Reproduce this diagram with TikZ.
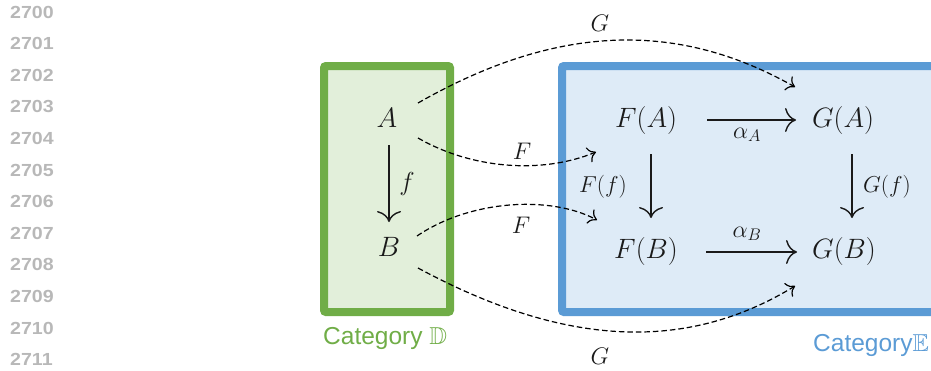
\RequirePackage{fix-cm}
\documentclass[tikz,border=0pt]{standalone}
\usepackage{amssymb}
\usepackage{fontspec}
\setsansfont{Liberation Sans}
\newfontfamily\lnfont[FakeStretch=1.12]{Liberation Sans Bold}
\usetikzlibrary{arrows.meta,calc}
\definecolor{lngray}{HTML}{B8B8B8}
\definecolor{dgreen}{HTML}{70AD47}
\definecolor{dgreenfill}{HTML}{E2EFDA}
\definecolor{eblue}{HTML}{5B9BD5}
\definecolor{ebluefill}{HTML}{DEEBF7}
\definecolor{ink}{HTML}{1A1A1A}
\tikzset{
  lnum/.style={anchor=west, inner sep=0pt, text=lngray, font=\lnfont\fontsize{17.5}{17.5}\selectfont},
  obj/.style={inner sep=0pt, text=ink, font=\fontsize{28}{28}\selectfont},
  lbl/.style={inner sep=0pt, text=ink, font=\fontsize{24}{24}\selectfont},
  cdarrow/.style={draw=ink, line width=1.4pt, -{Computer Modern Rightarrow[length=11pt,width=24pt]}},
  funarrow/.style={draw=black, line width=1.2pt, dash pattern=on 5.5pt off 3pt, -{Computer Modern Rightarrow[length=8pt,width=16pt]}},
  catlbl/.style={anchor=west, inner sep=0pt, font=\sffamily\fontsize{24.5}{24.5}\selectfont}
}
\begin{document}
\begin{tikzpicture}[x=1pt,y=-1pt]
\useasboundingbox (0,0) rectangle (931,370);
\clip (0,0) rectangle (931,370);
% line numbers
\foreach \i in {0,...,11} {
  \pgfmathtruncatemacro\n{2700+\i}
  \node[lnum] (ln\i) at (10,{12+31.6*\i}) {\n};
}
% category boxes
\node[draw=dgreen, fill=dgreenfill, line width=8pt, rounded corners=2pt, inner sep=0pt,
      minimum width=126pt, minimum height=246pt] (Dbox) at (387,189) {};
\node[draw=eblue, fill=ebluefill, line width=8pt, rounded corners=2pt, inner sep=0pt,
      minimum width=383pt, minimum height=246pt] (Ebox) at (753.5,189) {};
\node[catlbl, text=dgreen] (Dlab) at (323,338) {Category $\mathbb{D}$};
\node[catlbl, text=eblue] (Elab) at (813,345) {Category$\mathbb{E}$};
% objects
\node[obj] (A) at (387,118) {$A$};
\node[obj] (B) at (389,247) {$B$};
\node[obj] (FA) at (646,120) {$F(A)$};
\node[obj] (GA) at (843,120) {$G(A)$};
\node[obj] (FB) at (646,251) {$F(B)$};
\node[obj] (GB) at (844,251) {$G(B)$};
% morphisms
\draw[cdarrow] ($(A)+(2,27)$) -- ($(B)+(0,-25)$);
\node[lbl, font=\fontsize{26}{26}\selectfont] (f) at (407,184) {$f$};
\draw[cdarrow] ($(FA)+(5,34)$) -- ($(FB)+(5,-33)$);
\node[lbl, font=\fontsize{23}{23}\selectfont] (Ff) at (603,187) {$F(f)$};
\draw[cdarrow] ($(GA)+(9,34)$) -- ($(GB)+(8,-33)$);
\node[lbl, font=\fontsize{23}{23}\selectfont] (Gf) at (887,187) {$G(f)$};
\draw[cdarrow] ($(FA)+(61,0)$) -- ($(GA)+(-47,0)$);
\node[lbl] (aA) at (747,135) {$\alpha_A$};
\draw[cdarrow] ($(FB)+(60,1)$) -- ($(GB)+(-47,1)$);
\node[lbl] (aB) at (747,234) {$\alpha_B$};
% functors
\draw[funarrow] ($(A)+(31,-15)$) .. controls (560,22) and (680,22) .. ($(GA)+(-48,-33)$);
\node[lbl] (Gtop) at (600,23) {$G$};
\draw[funarrow] ($(A)+(31,20)$) .. controls (470,168) and (540,175) .. ($(FA)+(-50,32)$);
\node[lbl] (Fup) at (522,151) {$F$};
\draw[funarrow] ($(B)+(28,-11)$) .. controls (470,200) and (550,195) .. ($(FB)+(-49,-31)$);
\node[lbl] (Flow) at (521,225) {$F$};
\draw[funarrow] ($(B)+(29,21)$) .. controls (570,350) and (690,350) .. ($(GB)+(-49,35)$);
\node[lbl] (Gbot) at (600,356) {$G$};
\end{tikzpicture}
\end{document}
